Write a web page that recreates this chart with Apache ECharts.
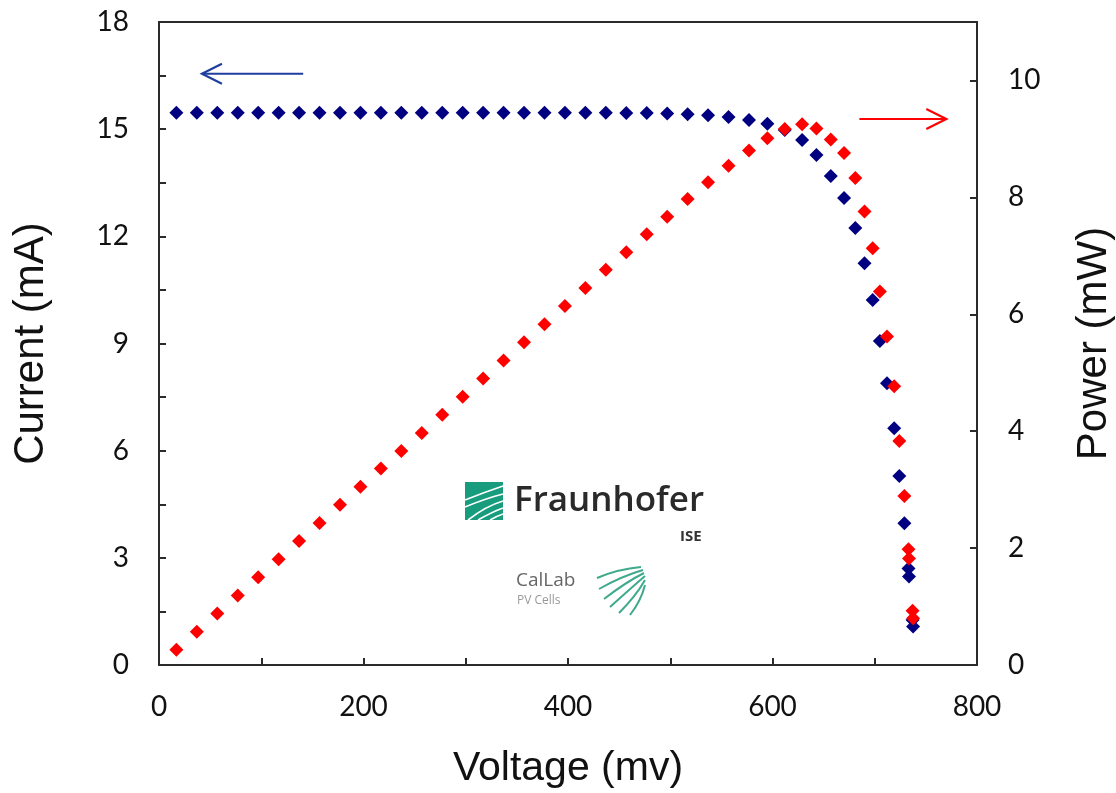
<!DOCTYPE html>
<html>
<head>
<meta charset="utf-8">
<script src="https://cdn.jsdelivr.net/npm/echarts@6/dist/echarts.min.js"></script>
<style>
html,body{margin:0;padding:0;background:#fff;overflow:hidden;width:1116px;height:793px;}
#chart{width:1116px;height:793px;}
</style>
</head>
<body>
<div id="chart"></div>
<script>
// Voltage (mV) of each measured point
const voltage = [17, 37, 57, 77, 97, 117, 137, 157, 177, 197, 217, 237, 257, 277, 297, 317, 337, 357, 377, 397,
  417, 437, 457, 477, 497, 517, 537, 557, 577, 595, 612, 629, 643, 657, 670, 681, 690, 698, 705, 712,
  719, 724, 729, 733, 733.5, 737, 737.5];
// Current (mA)
const current = [15.46, 15.46, 15.46, 15.46, 15.46, 15.46, 15.46, 15.46, 15.46, 15.46, 15.46, 15.46, 15.46, 15.46, 15.46, 15.46, 15.46, 15.46, 15.46, 15.46,
  15.46, 15.46, 15.45, 15.45, 15.44, 15.42, 15.39, 15.34, 15.26, 15.15, 14.98, 14.70, 14.28, 13.69, 13.07, 12.23, 11.25, 10.22, 9.07, 7.89,
  6.63, 5.29, 3.97, 2.70, 2.48, 1.26, 1.08];
// Power (mW)
const power = [0.26, 0.57, 0.88, 1.19, 1.50, 1.81, 2.12, 2.43, 2.74, 3.05, 3.36, 3.66, 3.97, 4.28, 4.59, 4.90, 5.21, 5.52, 5.83, 6.14,
  6.45, 6.76, 7.06, 7.37, 7.67, 7.97, 8.26, 8.54, 8.80, 9.01, 9.17, 9.25, 9.18, 8.99, 8.76, 8.33, 7.76, 7.13, 6.39, 5.62,
  4.77, 3.83, 2.89, 1.98, 1.82, 0.93, 0.80];
// Annotation arrows in data coordinates [voltage, value]
const currentArrow = [[141, 16.55], [42, 16.55]];
const powerArrow = [[685, 9.34], [770, 9.34]];

const BLUE = '#000080';
const RED = '#ff0000';
const AXIS = '#2b2b2b';
const TICKFONT = 'Lato, "Open Sans", sans-serif';
const TITLEFONT = '"Liberation Sans", Arial, sans-serif';

const chart = echarts.init(document.getElementById('chart'), null, {renderer: 'canvas', width: 1116, height: 793});

const option = {
  animation: false,
  backgroundColor: '#fff',
  grid: {left: 159, right: 139, top: 22, bottom: 128, containLabel: false, outerBoundsMode: 'none',
    show: true, borderColor: AXIS, borderWidth: 2, backgroundColor: 'transparent'},
  xAxis: {
    type: 'value', min: 0, max: 800, interval: 200,
    name: 'Voltage (mv)', nameLocation: 'middle', nameGap: 83,
    nameTextStyle: {fontFamily: TITLEFONT, fontSize: 41, color: '#111'},
    axisLine: {show: true, lineStyle: {color: AXIS, width: 2}},
    axisTick: {show: true, inside: true, length: 7, lineStyle: {color: AXIS, width: 2}},
    minorTick: {show: true, splitNumber: 2, length: 7, lineStyle: {color: AXIS, width: 2}},
    splitLine: {show: false},
    axisLabel: {fontFamily: TICKFONT, fontSize: 28, color: '#111', margin: 28}
  },
  yAxis: [{
    type: 'value', min: 0, max: 18, interval: 3, position: 'left',
    name: 'Current (mA)', nameLocation: 'middle', nameGap: 107, nameRotate: 90,
    nameTextStyle: {fontFamily: TITLEFONT, fontSize: 42, color: '#111'},
    axisLine: {show: true, lineStyle: {color: AXIS, width: 2}},
    axisTick: {show: true, inside: true, length: 7, lineStyle: {color: AXIS, width: 2}},
    minorTick: {show: true, splitNumber: 2, length: 7, lineStyle: {color: AXIS, width: 2}},
    splitLine: {show: false},
    axisLabel: {fontFamily: TICKFONT, fontSize: 28, color: '#111', margin: 30}
  }, {
    type: 'value', min: 0, max: 11, interval: 2, position: 'right',
    name: 'Power (mW)', nameLocation: 'middle', nameGap: 96, nameRotate: 90,
    nameTextStyle: {fontFamily: TITLEFONT, fontSize: 42, color: '#111'},
    axisLine: {show: true, lineStyle: {color: AXIS, width: 2}},
    axisTick: {show: true, inside: true, length: 7, lineStyle: {color: AXIS, width: 2}},
    splitLine: {show: false},
    axisLabel: {fontFamily: TICKFONT, fontSize: 28, color: '#111', margin: 31, showMaxLabel: false,
      formatter: v => (v % 2 === 0 ? String(v) : '')}
  }],
  series: [{
    name: 'Current', type: 'scatter', yAxisIndex: 0, symbol: 'diamond', symbolSize: 14,
    itemStyle: {color: BLUE, opacity: 1},
    data: voltage.map((v, i) => [v, current[i]]), z: 2
  }, {
    name: 'Power', type: 'scatter', yAxisIndex: 1, symbol: 'diamond', symbolSize: 14,
    itemStyle: {color: RED, opacity: 1},
    data: voltage.map((v, i) => [v, power[i]]), z: 3
  }]
};
chart.setOption(option);

function arrowGraphics(pts, axisIdx, color) {
  const a = chart.convertToPixel({xAxisIndex: 0, yAxisIndex: axisIdx}, pts[0]);
  const b = chart.convertToPixel({xAxisIndex: 0, yAxisIndex: axisIdx}, pts[1]);
  const dir = Math.sign(b[0] - a[0]);
  const arm = 20;
  return [{
    type: 'line', shape: {x1: a[0], y1: a[1], x2: b[0], y2: b[1]},
    style: {stroke: color, lineWidth: 2}, z: 10
  }, {
    type: 'polyline', shape: {points: [[b[0] - dir * arm, b[1] - 10], [b[0], b[1]], [b[0] - dir * arm, b[1] + 10]]},
    style: {stroke: color, lineWidth: 2.2, fill: null}, z: 10
  }];
}

// Fraunhofer ISE / CalLab logo
const logo = [];
logo.push({type: 'rect', shape: {x: 465, y: 482, width: 38, height: 38}, style: {fill: '#179c7d'}, z: 1});
const streaks = [
  [[465, 500], [485, 492], [503, 486]],
  [[465, 507], [487, 498], [503, 494]],
  [[468, 520], [486, 506], [503, 501]],
  [[478, 520], [492, 512], [503, 508]],
  [[490, 520], [497, 516], [503, 514]]
];
streaks.forEach(s => logo.push({type: 'bezierCurve',
  shape: {x1: s[0][0], y1: s[0][1], cpx1: s[1][0], cpy1: s[1][1], x2: s[2][0], y2: s[2][1]},
  style: {stroke: '#ffffff', lineWidth: 1.6, fill: null}, z: 2}));
logo.push({type: 'text', x: 514, y: 484, style: {text: 'Fraunhofer', font: '600 35px "Open Sans", "Noto Sans", sans-serif', fill: '#2a2a2a'}, z: 2});
logo.push({type: 'text', x: 680, y: 529, style: {text: 'ISE', font: 'bold 15px "Open Sans", sans-serif', fill: '#333'}, z: 2});
logo.push({type: 'text', x: 516, y: 571, style: {text: 'CalLab', font: '19px "Open Sans", sans-serif', fill: '#666'}, z: 2});
logo.push({type: 'text', x: 517, y: 595, style: {text: 'PV Cells', font: '12px "Open Sans", sans-serif', fill: '#999'}, z: 2});
const fan = [
  [[597, 578], [618, 569], [641, 567]],
  [[599, 589], [622, 576], [643, 570]],
  [[604, 599], [626, 582], [644, 573]],
  [[610, 607], [630, 589], [645, 576]],
  [[619, 613], [636, 596], [645, 580]],
  [[630, 615], [641, 601], [645, 585]]
];
fan.forEach(s => logo.push({type: 'bezierCurve',
  shape: {x1: s[0][0], y1: s[0][1], cpx1: s[1][0], cpy1: s[1][1], x2: s[2][0], y2: s[2][1]},
  style: {stroke: '#3fa98c', lineWidth: 2, fill: null}, z: 2}));

chart.setOption({
  graphic: [].concat(arrowGraphics(currentArrow, 0, '#1f3f9f'), arrowGraphics(powerArrow, 1, RED), logo)
});
</script>
</body>
</html>
